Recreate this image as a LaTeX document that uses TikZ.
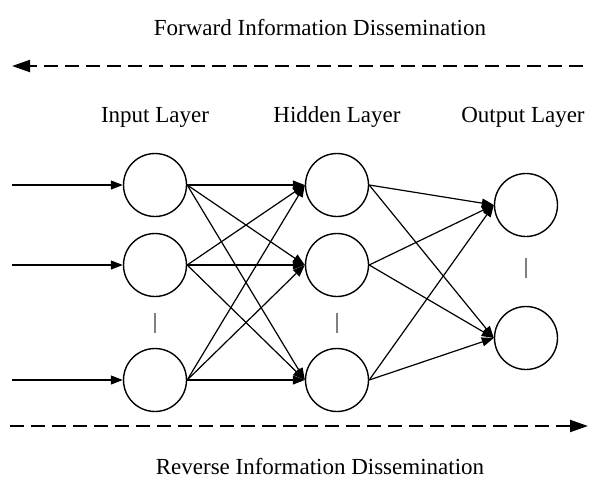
\documentclass[tikz,border=0pt]{standalone}
\usepackage{fontspec}
\setmainfont{Liberation Serif}
\usepackage{tikz}
\usetikzlibrary{arrows.meta}
\usetikzlibrary{positioning}
\tikzset{
    neuron/.style={
      circle,
      draw=black,
      fill=white,
      line width=1.4pt,
      minimum size=63pt,
      inner sep=0pt
    },
    link/.style={
      -{Triangle[length=12pt,width=9pt]},
      line width=1.2pt
    },
    flow/.style={
      -{Triangle[length=18pt,width=12pt]},
      line width=2pt,
      dash pattern=on 14pt off 7pt
    },
    title/.style={
      anchor=base,
      inner sep=0pt,
      font=\fontsize{23}{27}\selectfont
    },
    gapbar/.style={
      color=gray,
      line width=1.5pt
    },
}

\begin{document}
\begin{tikzpicture}[x=1pt,y=-1pt]
    \useasboundingbox (0,0) rectangle (590,480);

    % labels
    \draw (320,35) node[title] (Tf) {Forward Information Dissemination};
    \draw (155,122) node[title] (Ti) {Input Layer};
    \draw (337,122) node[title] (Th) {Hidden Layer};
    \draw (523,122) node[title] (To) {Output Layer};
    \draw (320,474) node[title] (Tr) {Reverse Information Dissemination};

    % flow directions
    \coordinate (F0) at (583,66);
    \coordinate (F1) at (12,66);
    \coordinate (R0) at (10,426);
    \coordinate (R1) at (588,426);
    \path (F0) edge[flow] (F1);
    \path (R0) edge[flow] (R1);

    % neurons
    \draw (155,185) node[neuron] (I1) {};
    \draw (155,265) node[neuron] (I2) {};
    \draw (155,380) node[neuron] (I3) {};
    \draw (337,185) node[neuron] (H1) {};
    \draw (337,265) node[neuron] (H2) {};
    \draw (337,380) node[neuron] (H3) {};
    \draw (526,205) node[neuron] (O1) {};
    \draw (526,338) node[neuron] (O2) {};

    \draw[gapbar] (155,313) -- (155,333);
    \draw[gapbar] (337,313) -- (337,333);
    \draw[gapbar] (526,258) -- (526,278);

    % inputs
    \coordinate (X1) at (12,185);
    \coordinate (X2) at (12,265);
    \coordinate (X3) at (12,380);
    \path (X1) edge[link] (I1.west);
    \path (X2) edge[link] (I2.west);
    \path (X3) edge[link] (I3.west);

    % input -> hidden
    \path (I1.east) edge[link] (H1.west);
    \path (I1.east) edge[link] (H2.west);
    \path (I1.east) edge[link] (H3.west);
    \path (I2.east) edge[link] (H1.west);
    \path (I2.east) edge[link] (H2.west);
    \path (I2.east) edge[link] (H3.west);
    \path (I3.east) edge[link] (H1.west);
    \path (I3.east) edge[link] (H2.west);
    \path (I3.east) edge[link] (H3.west);

    % hidden -> output
    \path (H1.east) edge[link] (O1.west);
    \path (H1.east) edge[link] (O2.west);
    \path (H2.east) edge[link] (O1.west);
    \path (H2.east) edge[link] (O2.west);
    \path (H3.east) edge[link] (O1.west);
    \path (H3.east) edge[link] (O2.west);
  \end{tikzpicture}
\end{document}
